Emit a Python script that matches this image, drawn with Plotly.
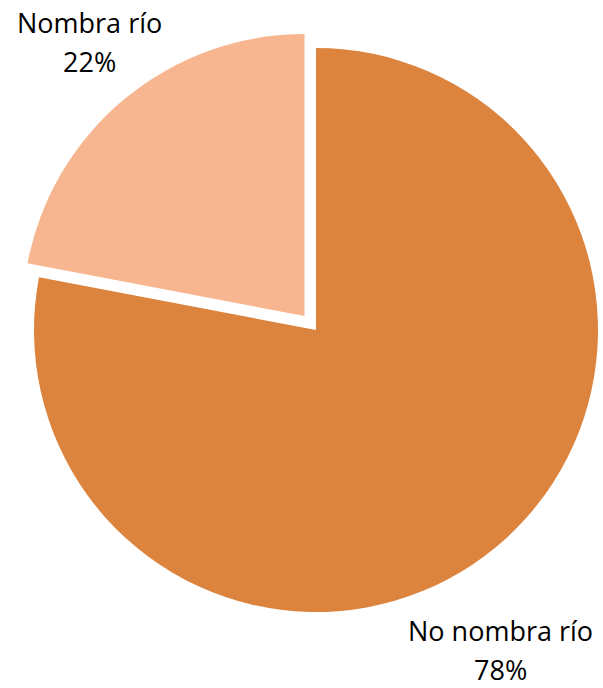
import math
import plotly.graph_objects as go

# Share of responses
categories = ["No nombra río", "Nombra río"]
values = [78, 22]
colors = ["#DC843E", "#F8B690"]

W, H = 603, 688
CX, CY, R = 316, 330, 282          # pie centre and radius in pixels
PULL = 0.064                        # explode fraction for the small slice

def domain(cx, cy, r):
    return dict(x=[(cx - r) / W, (cx + r) / W],
                y=[1 - (cy + r) / H, 1 - (cy - r) / H])

# Bisector of the exploded slice (clockwise from 12 o'clock)
total = sum(values)
start = sum(values[:1]) / total * 360
mid = math.radians(start + values[1] / total * 360 / 2)
dx = math.sin(mid) * PULL * R
dy = -math.cos(mid) * PULL * R

transparent = "rgba(0,0,0,0)"
common = dict(labels=categories, values=values, sort=False,
              direction="clockwise", rotation=0, textinfo="none",
              hoverinfo="label+percent", showlegend=False)

fig = go.Figure()
fig.add_trace(go.Pie(**common, domain=domain(CX, CY, R),
                     marker=dict(colors=[colors[0], transparent],
                                 line=dict(width=0))))
fig.add_trace(go.Pie(**common, domain=domain(CX + dx, CY + dy, R),
                     marker=dict(colors=[transparent, colors[1]],
                                 line=dict(width=0))))

# Category and percentage labels
font = dict(family="Open Sans", size=27, color="#000000")
label_pos = {"No nombra río": (500, 630), "Nombra río": (89, 23)}
annotations = []
for cat, val in zip(categories, values):
    x, y = label_pos[cat]
    pct = round(val / total * 100)
    for i, line in enumerate([cat, f"{pct}%"]):
        annotations.append(dict(x=x / W, y=1 - (y + i * 39) / H,
                                xref="paper", yref="paper", text=line,
                                showarrow=False, font=font,
                                xanchor="center", yanchor="middle"))

fig.update_layout(width=W, height=H, margin=dict(l=0, r=0, t=0, b=0),
                  paper_bgcolor="white", plot_bgcolor="white",
                  annotations=annotations)

fig.write_html("out.html")
